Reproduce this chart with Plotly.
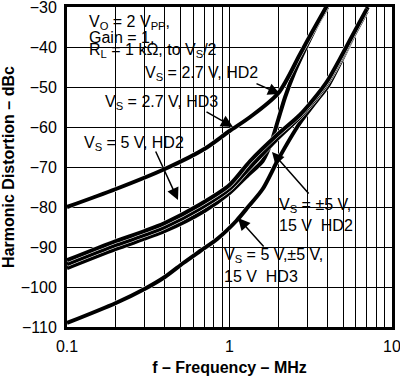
import plotly.graph_objects as go

# ---- data (frequency in MHz, distortion in dBc) ----
f_hd3_27 = [0.1, 0.2, 0.4, 0.7, 1.0, 1.34, 2.0, 2.7, 3.2, 4.0]
d_hd3_27 = [-80, -75.5, -70.5, -65.5, -61, -57.5, -51.5, -42, -36.5, -29.5]

f_hd2_27 = [0.1, 0.2, 0.4, 0.7, 1.0, 1.3, 1.6, 1.8, 2.0, 2.2, 2.5, 3.0, 3.5, 4.0]
d_hd2_27 = [-95.3, -90.5, -86, -81, -76.5, -72, -68.5, -64, -58, -52.5, -46.5, -39.5, -34, -30]

f_hd2_5 = [0.1, 0.2, 0.3, 0.4, 0.65, 1.0, 1.34, 1.96, 2.71, 3.3, 4.0, 5.0, 6.0, 7.0]
d_hd2_5 = [-93.3, -88.5, -86, -84, -79.5, -74.5, -68.5, -62, -57, -53, -48.5, -41.5, -35.5, -30.5]

f_hd2_pm5 = [0.1, 0.2, 0.3, 0.4, 0.65, 1.0, 1.34, 1.96, 2.71, 3.3, 4.0, 5.0, 6.0, 7.0]
d_hd2_pm5 = [-94.3, -89.5, -87, -85, -80.5, -75.5, -70, -63, -57.5, -53.5, -49, -42, -36, -31]

f_hd3_all = [0.1, 0.2, 0.3, 0.4, 0.52, 0.66, 0.84, 1.1, 1.3, 1.6, 2.0, 2.71, 3.5, 4.0, 5.0, 6.0, 7.1]
d_hd3_all = [-109, -104, -100.5, -97.5, -94, -91, -88, -83.5, -80, -75.5, -68, -59, -53, -50, -42.5, -36, -30]

x_tick_vals = [0.1, 0.2, 0.3, 0.4, 0.5, 0.6, 0.7, 0.8, 0.9,
               1, 2, 3, 4, 5, 6, 7, 8, 9, 10]
x_tick_text = ["0.1", "", "", "", "", "", "", "", "",
               "1", "", "", "", "", "", "", "", "", "10"]
y_tick_vals = [-110, -100, -90, -80, -70, -60, -50, -40, -30]

series = [
    (f_hd3_all, d_hd3_all),
    (f_hd2_27, d_hd2_27),
    (f_hd2_pm5, d_hd2_pm5),
    (f_hd2_5, d_hd2_5),
    (f_hd3_27, d_hd3_27),
]

fig = go.Figure()
for fx, dy in series:
    fig.add_trace(go.Scatter(x=fx, y=dy, mode="lines",
                             line=dict(color="white", width=5, shape="spline", smoothing=0.8),
                             showlegend=False, hoverinfo="skip"))
    fig.add_trace(go.Scatter(x=fx, y=dy, mode="lines",
                             line=dict(color="black", width=4, shape="spline", smoothing=0.8),
                             showlegend=False))

W, H = 400, 382
L, R, T, B = 67, 8, 7, 55
pw, ph = W - L - R, H - T - B


def px(x):
    return (x - L) / pw


def py(y):
    return (H - B - y) / ph


FONT = "Liberation Sans, Arial, Helvetica, sans-serif"

# text, left x, centre y, box right x
labels = [
    ("V<sub>O</sub> = 2 V<sub>PP</sub>,", 87, 22, 170),
    ("Gain = 1,", 87, 37, 153),
    ("R<sub>L</sub> = 1 kΩ, to V<sub>S</sub>/2", 87, 51, 218),
    ("V<sub>S</sub> = 2.7 V, HD2", 143, 73, 260),
    ("V<sub>S</sub> = 2.7 V, HD3", 103, 102, 220),
    ("V<sub>S</sub> = 5 V, HD2", 82, 143, 186),
    ("V<sub>S</sub> = ±5 V,", 277, 205, 350),
    ("15 V  HD2", 277, 225, 350),
    ("V<sub>S</sub> = 5 V,±5 V,", 222, 255, 325),
    ("15 V  HD3", 222, 276, 297),
]
annotations = []
shapes = []
for text, lx, ly, rx in labels:
    shapes.append(dict(type="rect", xref="paper", yref="paper", layer="between",
                       x0=px(lx - 2), x1=px(rx), y0=py(ly + 7), y1=py(ly - 7),
                       fillcolor="white", line=dict(width=0)))
    annotations.append(dict(text=text, xref="paper", yref="paper", x=px(lx), y=py(ly),
                            xanchor="left", yanchor="middle", showarrow=False,
                            font=dict(family=FONT, size=16, color="black")))

arrows = [
    ((255, 83), (280, 94)),
    ((205, 111), (233, 127)),
    ((155, 150), (178, 200)),
    ((310, 195), (272, 152)),
    ((265, 248), (238, 218)),
]
for (tx, ty), (hx, hy) in arrows:
    annotations.append(dict(text="", xref="paper", yref="paper", x=px(hx), y=py(hy),
                            ax=tx - hx, ay=ty - hy, showarrow=True, arrowhead=2,
                            arrowsize=1.6, arrowwidth=1.5, arrowcolor="black", standoff=0))

fig.update_layout(
    template="none",
    width=W, height=H,
    margin=dict(l=L, r=R, t=T, b=B),
    paper_bgcolor="white", plot_bgcolor="white",
    font=dict(family=FONT, size=16, color="black"),
    annotations=annotations,
    shapes=shapes,
    showlegend=False,
)
fig.update_xaxes(type="log", range=[-1, 1], tickvals=x_tick_vals, ticktext=x_tick_text,
                 showgrid=True, gridcolor="#000000", gridwidth=1, ticks="",
                 showline=True, linecolor="black", linewidth=3, mirror=True,
                 zeroline=False, tickfont=dict(size=16), automargin=False,
                 ticklabelstandoff=3, ticklabeloverflow="allow",
                 title=dict(text="<b>f – Frequency – MHz</b>", font=dict(size=16), standoff=8))
fig.update_yaxes(range=[-110, -30], tickvals=y_tick_vals,
                 showgrid=True, gridcolor="#000000", gridwidth=1, ticks="",
                 showline=True, linecolor="black", linewidth=3, mirror=True,
                 zeroline=False, tickfont=dict(size=16), automargin=False,
                 ticklabelstandoff=4, ticklabeloverflow="allow",
                 title=dict(text="<b>Harmonic Distortion – dBc</b>", font=dict(size=16), standoff=8))

fig.write_html("out.html", config={"displayModeBar": False},
               post_script="document.body.style.margin='0';")
